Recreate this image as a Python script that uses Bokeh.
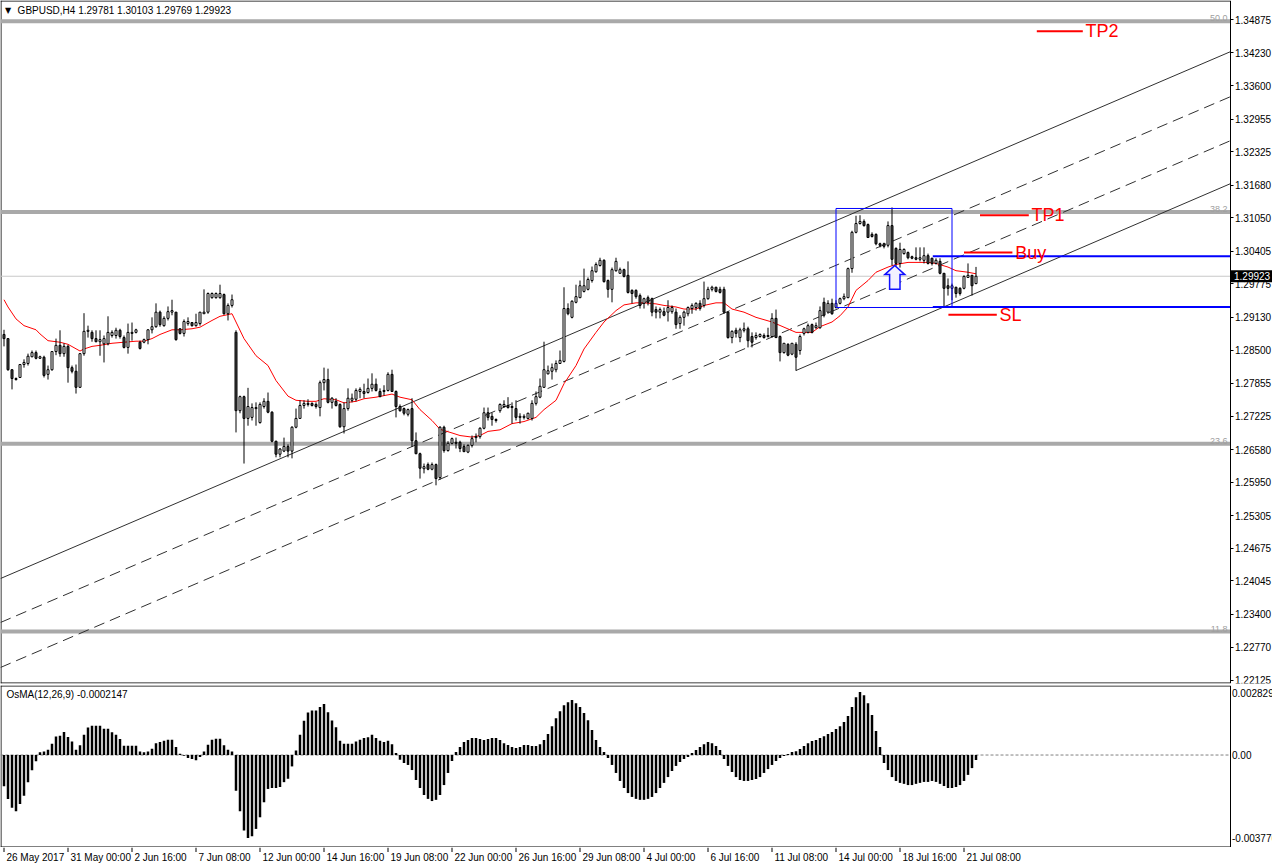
from bokeh.plotting import figure
from bokeh.models import Range1d, FixedTicker, PrintfTickFormatter, Label
from bokeh.layouts import column
from bokeh.embed import file_html
from bokeh.resources import INLINE
from bokeh.core.properties import value

# ---------------- data (GBPUSD H4, 26 May 2017 08:00 .. 21 Jul 2017 20:00) ----------------
bar_open = [
    1.2880, 1.2872, 1.2812, 1.2795, 1.2797, 1.2822, 1.2824, 1.2837, 1.2845, 1.2834,
    1.2836, 1.2803, 1.2812, 1.2847, 1.2859, 1.2843, 1.2857, 1.2816, 1.2809, 1.2778,
    1.2843, 1.2886, 1.2884, 1.2872, 1.2866, 1.2862, 1.2862, 1.2878, 1.2878, 1.2888,
    1.2874, 1.2855, 1.2882, 1.2884, 1.2865, 1.2865, 1.2870, 1.2889, 1.2895, 1.2923,
    1.2897, 1.2911, 1.2923, 1.2923, 1.2891, 1.2882, 1.2901, 1.2903, 1.2897, 1.2901,
    1.2920, 1.2923, 1.2951, 1.2951, 1.2951, 1.2957, 1.2920, 1.2936, 1.2884, 1.2733,
    1.2760, 1.2718, 1.2720, 1.2737, 1.2710, 1.2741, 1.2751, 1.2730, 1.2674, 1.2649,
    1.2655, 1.2664, 1.2655, 1.2701, 1.2718, 1.2743, 1.2747, 1.2747, 1.2745, 1.2739,
    1.2787, 1.2793, 1.2749, 1.2751, 1.2745, 1.2702, 1.2737, 1.2753, 1.2755, 1.2770,
    1.2770, 1.2768, 1.2776, 1.2784, 1.2770, 1.2770, 1.2772, 1.2803, 1.2770, 1.2741,
    1.2737, 1.2726, 1.2737, 1.2675, 1.2650, 1.2621, 1.2629, 1.2620, 1.2629, 1.2604,
    1.2701, 1.2656, 1.2670, 1.2672, 1.2672, 1.2664, 1.2653, 1.2666, 1.2681, 1.2683,
    1.2699, 1.2729, 1.2722, 1.2716, 1.2733, 1.2741, 1.2743, 1.2741, 1.2737, 1.2720,
    1.2720, 1.2718, 1.2718, 1.2747, 1.2759, 1.2778, 1.2804, 1.2809, 1.2812, 1.2824,
    1.2828, 1.2930, 1.2913, 1.2942, 1.2951, 1.2963, 1.2967, 1.2984, 1.3001, 1.3013,
    1.3023, 1.2984, 1.2967, 1.3003, 1.2998, 1.3005, 1.2994, 1.2965, 1.2965, 1.2955,
    1.2940, 1.2951, 1.2949, 1.2928, 1.2923, 1.2924, 1.2923, 1.2924, 1.2923, 1.2901,
    1.2913, 1.2920, 1.2930, 1.2932, 1.2940, 1.2936, 1.2949, 1.2967, 1.2971, 1.2967,
    1.2967, 1.2923, 1.2874, 1.2888, 1.2874, 1.2888, 1.2891, 1.2876, 1.2874, 1.2876,
    1.2878, 1.2876, 1.2876, 1.2911, 1.2876, 1.2845, 1.2861, 1.2842, 1.2861, 1.2849,
    1.2882, 1.2884, 1.2899, 1.2893, 1.2893, 1.2942, 1.2923, 1.2940, 1.2932, 1.2940,
    1.2949, 1.2951, 1.3007, 1.3077, 1.3094, 1.3098, 1.3092, 1.3073, 1.3073, 1.3055,
    1.3055, 1.3052, 1.3090, 1.3046, 1.3017, 1.3036, 1.3038, 1.3030, 1.3028, 1.3025,
    1.3023, 1.3032, 1.3027, 1.3017, 1.3021, 1.2998, 1.2974, 1.2969, 1.2971, 1.2969,
    1.2969, 1.2990, 1.2994, 1.29781]

bar_high = [
    1.2889, 1.2873, 1.2813, 1.2797, 1.2823, 1.2832, 1.2843, 1.2849, 1.2849, 1.2839,
    1.2839, 1.2820, 1.2848, 1.2872, 1.2888, 1.2863, 1.2860, 1.2820, 1.2822, 1.2844,
    1.2921, 1.2897, 1.2888, 1.2888, 1.2888, 1.2878, 1.2915, 1.2888, 1.2893, 1.2891,
    1.2878, 1.2901, 1.2903, 1.2891, 1.2868, 1.2872, 1.2890, 1.2913, 1.2940, 1.2926,
    1.2915, 1.2934, 1.2947, 1.2923, 1.2891, 1.2909, 1.2913, 1.2903, 1.2920, 1.2923,
    1.2967, 1.2961, 1.2961, 1.2961, 1.2976, 1.2959, 1.2940, 1.2957, 1.2888, 1.2762,
    1.2762, 1.2777, 1.2747, 1.2749, 1.2749, 1.2757, 1.2768, 1.2732, 1.2675, 1.2661,
    1.2681, 1.2668, 1.2703, 1.2737, 1.2753, 1.2753, 1.2755, 1.2749, 1.2749, 1.2791,
    1.2816, 1.2814, 1.2759, 1.2757, 1.2747, 1.2749, 1.2776, 1.2766, 1.2776, 1.2778,
    1.2785, 1.2795, 1.2805, 1.2795, 1.2776, 1.2782, 1.2807, 1.2812, 1.2772, 1.2745,
    1.2739, 1.2737, 1.2757, 1.2691, 1.2652, 1.2631, 1.2633, 1.2633, 1.2631, 1.2703,
    1.2704, 1.2674, 1.2681, 1.2681, 1.2675, 1.2668, 1.2668, 1.2685, 1.2689, 1.2701,
    1.2739, 1.2739, 1.2729, 1.2718, 1.2747, 1.2753, 1.2759, 1.2749, 1.2753, 1.2728,
    1.2726, 1.2729, 1.2753, 1.2770, 1.2795, 1.2866, 1.2820, 1.2824, 1.2830, 1.2849,
    1.2971, 1.2940, 1.2946, 1.2976, 1.2984, 1.3007, 1.2990, 1.3011, 1.3019, 1.3028,
    1.3025, 1.2986, 1.3009, 1.3028, 1.3009, 1.3007, 1.3021, 1.2967, 1.2967, 1.2959,
    1.2951, 1.2955, 1.2951, 1.2934, 1.2932, 1.2932, 1.2946, 1.2936, 1.2930, 1.2917,
    1.2926, 1.2934, 1.2940, 1.2942, 1.2946, 1.2982, 1.2972, 1.2974, 1.2972, 1.2972,
    1.2972, 1.2924, 1.2888, 1.2893, 1.2893, 1.2903, 1.2895, 1.2884, 1.2884, 1.2882,
    1.2882, 1.2893, 1.2921, 1.2928, 1.2878, 1.2863, 1.2863, 1.2863, 1.2865, 1.2880,
    1.2893, 1.2901, 1.2901, 1.2903, 1.2934, 1.2951, 1.2946, 1.2949, 1.2946, 1.2951,
    1.2959, 1.3009, 1.3080, 1.3109, 1.3110, 1.3102, 1.3094, 1.3077, 1.3075, 1.3057,
    1.3057, 1.3098, 1.3125, 1.3048, 1.3057, 1.3046, 1.3040, 1.3032, 1.3048, 1.3048,
    1.3048, 1.3036, 1.3028, 1.3027, 1.3027, 1.2998, 1.2988, 1.2978, 1.2972, 1.2971,
    1.2994, 1.3017, 1.2995, 1.30103]

bar_low = [
    1.2857, 1.2810, 1.2774, 1.2791, 1.2796, 1.2816, 1.2820, 1.2836, 1.2832, 1.2833,
    1.2797, 1.2793, 1.2810, 1.2840, 1.2837, 1.2837, 1.2787, 1.2805, 1.2766, 1.2777,
    1.2839, 1.2874, 1.2866, 1.2865, 1.2839, 1.2826, 1.2859, 1.2874, 1.2872, 1.2872,
    1.2853, 1.2843, 1.2868, 1.2882, 1.2851, 1.2863, 1.2861, 1.2882, 1.2893, 1.2895,
    1.2895, 1.2907, 1.2917, 1.2868, 1.2880, 1.2876, 1.2897, 1.2895, 1.2895, 1.2897,
    1.2920, 1.2920, 1.2949, 1.2949, 1.2949, 1.2918, 1.2907, 1.2932, 1.2691, 1.2728,
    1.2631, 1.2704, 1.2714, 1.2704, 1.2708, 1.2737, 1.2728, 1.2672, 1.2643, 1.2643,
    1.2653, 1.2643, 1.2641, 1.2699, 1.2718, 1.2737, 1.2741, 1.2741, 1.2737, 1.2722,
    1.2772, 1.2747, 1.2737, 1.2741, 1.2700, 1.2689, 1.2733, 1.2749, 1.2751, 1.2757,
    1.2757, 1.2766, 1.2770, 1.2770, 1.2759, 1.2762, 1.2770, 1.2769, 1.2720, 1.2731,
    1.2724, 1.2722, 1.2663, 1.2649, 1.2602, 1.2612, 1.2618, 1.2618, 1.2589, 1.2600,
    1.2652, 1.2654, 1.2668, 1.2660, 1.2653, 1.2653, 1.2651, 1.2662, 1.2672, 1.2679,
    1.2697, 1.2714, 1.2704, 1.2710, 1.2729, 1.2739, 1.2737, 1.2708, 1.2714, 1.2708,
    1.2716, 1.2716, 1.2714, 1.2743, 1.2757, 1.2777, 1.2803, 1.2793, 1.2807, 1.2823,
    1.2826, 1.2917, 1.2911, 1.2940, 1.2950, 1.2961, 1.2965, 1.2980, 1.2999, 1.3011,
    1.2980, 1.2951, 1.2942, 1.3001, 1.2997, 1.2990, 1.2959, 1.2940, 1.2949, 1.2930,
    1.2930, 1.2936, 1.2915, 1.2911, 1.2911, 1.2915, 1.2905, 1.2920, 1.2891, 1.2891,
    1.2897, 1.2915, 1.2920, 1.2926, 1.2926, 1.2932, 1.2947, 1.2963, 1.2961, 1.2959,
    1.2920, 1.2872, 1.2863, 1.2874, 1.2865, 1.2884, 1.2855, 1.2855, 1.2870, 1.2874,
    1.2872, 1.2874, 1.2874, 1.2873, 1.2828, 1.2843, 1.2838, 1.2840, 1.2810, 1.2841,
    1.2878, 1.2882, 1.2882, 1.2891, 1.2891, 1.2913, 1.2920, 1.2918, 1.2930, 1.2938,
    1.2946, 1.2950, 1.2999, 1.3075, 1.3092, 1.3088, 1.3066, 1.3067, 1.3052, 1.3048,
    1.3046, 1.3048, 1.3013, 1.3011, 1.3009, 1.3034, 1.3025, 1.3025, 1.3023, 1.3021,
    1.3017, 1.3015, 1.3013, 1.3015, 1.2996, 1.2934, 1.2955, 1.2946, 1.2951, 1.2955,
    1.2967, 1.2990, 1.2955, 1.29769]

bar_close = [
    1.2872, 1.2812, 1.2795, 1.2793, 1.2822, 1.2826, 1.2838, 1.2845, 1.2834, 1.2837,
    1.2801, 1.2812, 1.2847, 1.2859, 1.2843, 1.2857, 1.2816, 1.2809, 1.2778, 1.2843,
    1.2886, 1.2888, 1.2872, 1.2866, 1.2870, 1.2872, 1.2884, 1.2884, 1.2888, 1.2876,
    1.2855, 1.2884, 1.2884, 1.2889, 1.2853, 1.2870, 1.2889, 1.2895, 1.2923, 1.2899,
    1.2911, 1.2924, 1.2926, 1.2870, 1.2882, 1.2905, 1.2905, 1.2897, 1.2903, 1.2923,
    1.2923, 1.2959, 1.2959, 1.2959, 1.2959, 1.2920, 1.2936, 1.2947, 1.2733, 1.2760,
    1.2718, 1.2741, 1.2739, 1.2739, 1.2745, 1.2751, 1.2730, 1.2674, 1.2649, 1.2659,
    1.2664, 1.2655, 1.2701, 1.2718, 1.2743, 1.2747, 1.2745, 1.2743, 1.2741, 1.2787,
    1.2793, 1.2749, 1.2757, 1.2743, 1.2702, 1.2737, 1.2757, 1.2757, 1.2772, 1.2774,
    1.2766, 1.2776, 1.2784, 1.2772, 1.2760, 1.2772, 1.2803, 1.2770, 1.2741, 1.2733,
    1.2728, 1.2735, 1.2675, 1.2650, 1.2622, 1.2625, 1.2620, 1.2629, 1.2602, 1.2701,
    1.2656, 1.2670, 1.2679, 1.2670, 1.2660, 1.2654, 1.2666, 1.2679, 1.2683, 1.2699,
    1.2729, 1.2720, 1.2716, 1.2714, 1.2745, 1.2745, 1.2739, 1.2739, 1.2720, 1.2722,
    1.2722, 1.2728, 1.2747, 1.2760, 1.2780, 1.2812, 1.2810, 1.2816, 1.2824, 1.2830,
    1.2930, 1.2920, 1.2944, 1.2953, 1.2974, 1.2974, 1.2986, 1.3003, 1.3015, 1.3023,
    1.2982, 1.2967, 1.3005, 1.3021, 1.3005, 1.2992, 1.2961, 1.2959, 1.2953, 1.2936,
    1.2949, 1.2942, 1.2923, 1.2923, 1.2928, 1.2917, 1.2932, 1.2932, 1.2899, 1.2913,
    1.2923, 1.2932, 1.2936, 1.2940, 1.2930, 1.2949, 1.2967, 1.2971, 1.2963, 1.2961,
    1.2923, 1.2874, 1.2886, 1.2882, 1.2889, 1.2891, 1.2868, 1.2865, 1.2878, 1.2880,
    1.2874, 1.2878, 1.2911, 1.2874, 1.2845, 1.2863, 1.2840, 1.2863, 1.2836, 1.2876,
    1.2891, 1.2897, 1.2884, 1.2897, 1.2926, 1.2917, 1.2940, 1.2920, 1.2940, 1.2949,
    1.2953, 1.3007, 1.3077, 1.3094, 1.3098, 1.3090, 1.3067, 1.3069, 1.3055, 1.3052,
    1.3050, 1.3090, 1.3025, 1.3017, 1.3044, 1.3044, 1.3028, 1.3027, 1.3025, 1.3028,
    1.3032, 1.3017, 1.3017, 1.3023, 1.2998, 1.2969, 1.2969, 1.2974, 1.2959, 1.2959,
    1.2992, 1.2994, 1.2974, 1.29923]

# red moving average, read at selected bars
ma_bar = [0, 1, 3, 5, 8, 9, 11, 14, 16, 19, 20, 22, 24, 27, 30, 33, 35, 37, 39, 42,
          44, 47, 49, 52, 54, 57, 58, 60, 63, 66, 68, 71, 73, 76, 78, 80, 83, 85, 88, 90,
          93, 95, 97, 99, 102, 104, 107, 109, 112, 114, 117, 119, 121, 124, 127, 130, 133, 135, 138, 140,
          143, 145, 148, 150, 153, 155, 158, 160, 163, 165, 168, 170, 173, 175, 178, 180, 182, 185, 188, 192,
          195, 198, 202, 204, 207, 209, 211, 213, 216, 218, 221, 223, 226, 228, 231, 233, 236, 238, 241, 243]
ma_val = [1.2947, 1.2933, 1.2910, 1.2897, 1.2889, 1.2881, 1.2868, 1.2865, 1.2861, 1.2848,
          1.2852, 1.2857, 1.2859, 1.2863, 1.2865, 1.2867, 1.2867, 1.2872, 1.2880, 1.2889,
          1.2889, 1.2891, 1.2894, 1.2907, 1.2915, 1.2920, 1.2904, 1.2872, 1.2839, 1.2820,
          1.2791, 1.2761, 1.2753, 1.2751, 1.2751, 1.2756, 1.2754, 1.2748, 1.2751, 1.2756,
          1.2759, 1.2762, 1.2765, 1.2759, 1.2754, 1.2735, 1.2714, 1.2697, 1.2690, 1.2685,
          1.2682, 1.2685, 1.2693, 1.2696, 1.2708, 1.2712, 1.2720, 1.2735, 1.2753, 1.2785,
          1.2820, 1.2852, 1.2884, 1.2904, 1.2926, 1.2937, 1.2941, 1.2941, 1.2939, 1.2936,
          1.2933, 1.2929, 1.2929, 1.2936, 1.2941, 1.2941, 1.2929, 1.2923, 1.2913, 1.2904,
          1.2894, 1.2884, 1.2884, 1.2895, 1.2904, 1.2916, 1.2933, 1.2965, 1.2984, 1.3000,
          1.3010, 1.3015, 1.3019, 1.3019, 1.3019, 1.3017, 1.3010, 1.3003, 1.3000, 1.2997]

# OsMA(12,26,9) histogram
osma = [
    -0.00129, -0.00181, -0.00218, -0.00232, -0.00202, -0.00168, -0.00112, -0.00063, -0.00026, 0.00011,
    0.00015, 0.00022, 0.00047, 0.00077, 0.00080, 0.00095, 0.00074, 0.00056, 0.00022, 0.00040,
    0.00084, 0.00114, 0.00121, 0.00121, 0.00121, 0.00108, 0.00108, 0.00094, 0.00084, 0.00066,
    0.00038, 0.00038, 0.00038, 0.00038, 0.00015, 0.00011, 0.00015, 0.00026, 0.00049, 0.00054,
    0.00059, 0.00063, 0.00063, 0.00033, 0.00005, -0.00003, -0.00012, -0.00016, -0.00022, -0.00008,
    0.00015, 0.00042, 0.00063, 0.00067, 0.00067, 0.00040, 0.00022, 0.00015, -0.00147, -0.00232,
    -0.00312, -0.00342, -0.00335, -0.00305, -0.00257, -0.00195, -0.00140, -0.00136, -0.00136, -0.00132,
    -0.00112, -0.00098, -0.00047, 0.00019, 0.00084, 0.00141, 0.00176, 0.00184, 0.00184, 0.00198,
    0.00211, 0.00177, 0.00143, 0.00115, 0.00059, 0.00047, 0.00047, 0.00047, 0.00056, 0.00063,
    0.00070, 0.00073, 0.00084, 0.00070, 0.00059, 0.00054, 0.00059, 0.00045, 0.00008, -0.00019,
    -0.00033, -0.00041, -0.00062, -0.00103, -0.00136, -0.00165, -0.00181, -0.00190, -0.00185, -0.00165,
    -0.00124, -0.00074, -0.00025, 0.00012, 0.00033, 0.00054, 0.00062, 0.00070, 0.00070, 0.00066,
    0.00062, 0.00066, 0.00070, 0.00070, 0.00062, 0.00049, 0.00041, 0.00033, 0.00029, 0.00033,
    0.00041, 0.00041, 0.00037, 0.00037, 0.00045, 0.00062, 0.00087, 0.00119, 0.00152, 0.00181,
    0.00206, 0.00218, 0.00227, 0.00214, 0.00198, 0.00173, 0.00144, 0.00103, 0.00062, 0.00033,
    0.00012, -0.00012, -0.00041, -0.00074, -0.00107, -0.00136, -0.00157, -0.00173, -0.00181, -0.00185,
    -0.00185, -0.00181, -0.00173, -0.00157, -0.00136, -0.00115, -0.00091, -0.00066, -0.00045, -0.00029,
    -0.00016, -0.00008, 0.00008, 0.00021, 0.00033, 0.00045, 0.00054, 0.00049, 0.00037, 0.00021,
    -0.00016, -0.00045, -0.00070, -0.00091, -0.00103, -0.00107, -0.00107, -0.00103, -0.00099, -0.00091,
    -0.00074, -0.00058, -0.00041, -0.00025, -0.00012, -0.00004, 0.00004, 0.00012, 0.00016, 0.00025,
    0.00037, 0.00049, 0.00058, 0.00062, 0.00070, 0.00078, 0.00087, 0.00095, 0.00107, 0.00119,
    0.00136, 0.00161, 0.00198, 0.00239, 0.00260, 0.00247, 0.00214, 0.00165, 0.00099, 0.00033,
    -0.00033, -0.00062, -0.00091, -0.00107, -0.00115, -0.00119, -0.00124, -0.00124, -0.00119, -0.00115,
    -0.00111, -0.00111, -0.00107, -0.00111, -0.00119, -0.00128, -0.00136, -0.00136, -0.00132, -0.00124,
    -0.00107, -0.00082, -0.00054, -0.00021]

price_ticks = [1.34875, 1.34230, 1.33600, 1.32955, 1.32325, 1.31680, 1.31050, 1.30405,
               1.29775, 1.29130, 1.28500, 1.27855, 1.27225, 1.26580, 1.25950, 1.25305,
               1.24675, 1.24045, 1.23400, 1.22770, 1.22125]
time_tick_bars = [0, 16, 32, 48, 64, 80, 96, 112, 128, 144, 160, 176, 192, 208, 224, 240]
time_labels = ["26 May 2017", "31 May 00:00", "2 Jun 16:00", "7 Jun 08:00", "12 Jun 00:00",
               "14 Jun 16:00", "19 Jun 08:00", "22 Jun 00:00", "26 Jun 16:00", "29 Jun 08:00",
               "4 Jul 00:00", "6 Jul 16:00", "11 Jul 08:00", "14 Jul 00:00", "18 Jul 16:00",
               "21 Jul 08:00"]

fib_levels = [1.3484, 1.3116, 1.2669, 1.2307]
fib_names = ["50.0", "38.2", "23.6", "11.8"]
last_price = 1.29923

# channel lines: (bar0, price0, bar1, price1)
channel_solid = [(-0.875, 1.24092, 306.5, 1.34251), (198, 1.28105, 306.5, 1.31705)]
channel_dash = [(-0.875, 1.23244, 306.5, 1.33383), (-0.875, 1.22376, 306.5, 1.32534)]

level_names = ["TP2", "TP1", "Buy", "SL"]
level_prices = [1.3465, 1.3110, 1.3038, 1.2918]
level_start = [258.2, 244.0, 240.0, 236.1]
level_end = [269.7, 256.2, 252.1, 248.2]

blue_levels = [1.3031, 1.2933]
blue_start = 232.2
box_left, box_right, box_top, box_bottom = 208.0, 237.0, 1.3123, 1.2932
# up-arrow object: centre bar, tip price, bottom price
arrow_bar, arrow_tip, arrow_base = 222.7, 1.3013, 1.2967

# ---------------- geometry of the window ----------------
FONT = "Liberation Sans"
PXW = 4.0                  # pixels per bar
XL = -0.875                # left edge of the window (bars)
XF = XL + 1272 / PXW       # right edge of the canvas
XA = XL + 1229.5 / PXW     # price-scale line
PY1 = 0.0001929            # price per pixel, main window
PY2 = 0.00004128           # OsMA units per pixel
Y1_TOP = 1.35242
Y1_BOT = Y1_TOP - 683 * PY1
Y2_TOP = 0.002829 + PY2
Y2_BOT = -0.003776 - PY2

N = min(len(bar_open), len(bar_high), len(bar_low), len(bar_close))
bars = list(range(N))


def style_scale(axis, ticks, fmt=None, overrides=None, tick_out=3):
    axis.fixed_location = XA
    axis.ticker = FixedTicker(ticks=ticks)
    if fmt is not None:
        axis.formatter = PrintfTickFormatter(format=fmt)
    if overrides is not None:
        axis.major_label_overrides = overrides
    axis.major_tick_out = tick_out
    axis.major_tick_in = 0
    axis.minor_tick_out = 0
    axis.minor_tick_in = 0
    axis.major_label_standoff = 2
    axis.major_label_text_font = FONT
    axis.major_label_text_font_size = "10px"
    axis.major_label_text_color = "black"
    axis.axis_line_color = "black"


p1 = figure(frame_width=1272, frame_height=683, x_range=Range1d(XL, XF),
            y_range=Range1d(Y1_BOT, Y1_TOP), output_backend="svg", toolbar_location=None,
            x_axis_location=None, y_axis_location="right",
            min_border_left=0, min_border_right=0, min_border_top=0, min_border_bottom=2,
            background_fill_color="white", border_fill_color="white",
            outline_line_color=None)
p1.grid.visible = False
style_scale(p1.yaxis[0], price_ticks, fmt="%.5f")

# window border
p1.segment(x0=[XL, XL, XL + 0.5 / PXW], x1=[XA, XA, XL + 0.5 / PXW],
           y0=[Y1_TOP - 0.5 * PY1, Y1_BOT + 0.5 * PY1, Y1_BOT],
           y1=[Y1_TOP - 0.5 * PY1, Y1_BOT + 0.5 * PY1, Y1_TOP],
           line_color="black", line_width=1)

# fibonacci levels
p1.segment(x0=[XL] * len(fib_levels), x1=[XA] * len(fib_levels),
           y0=fib_levels, y1=fib_levels, line_color="#a9a9a9", line_width=4)
p1.text(x=[XA - 0.6] * len(fib_levels), y=fib_levels, text=fib_names,
        text_align="right", text_baseline="bottom", text_color="#a0a0a0",
        text_font_size="9px", text_font=value(FONT))

# last price line
p1.segment(x0=[XL], x1=[XA], y0=[last_price], y1=[last_price],
           line_color="#c8c8c8", line_width=1)

# channel
for (b0, v0, b1, v1) in channel_solid:
    p1.line([b0, b1], [v0, v1], line_color="#303030", line_width=1)
for (b0, v0, b1, v1) in channel_dash:
    p1.line([b0, b1], [v0, v1], line_color="#303030", line_width=1, line_dash="11 6")

# moving average
p1.line(ma_bar, ma_val, line_color="red", line_width=1)

# candles
p1.segment(x0=bars, x1=bars, y0=bar_low[:N], y1=bar_high[:N], line_color="black", line_width=1)
bull = [i for i in bars if bar_close[i] >= bar_open[i]]
bear = [i for i in bars if bar_close[i] < bar_open[i]]
p1.vbar(x=bull, top=[bar_close[i] for i in bull], bottom=[bar_open[i] for i in bull],
        width=0.5, fill_color="white", line_color="black", line_width=1)
p1.vbar(x=bear, top=[bar_open[i] for i in bear], bottom=[bar_close[i] for i in bear],
        width=0.5, fill_color="#474747", line_color="black", line_width=1)

# blue box and levels
p1.quad(left=[box_left], right=[box_right], top=[box_top], bottom=[box_bottom],
        fill_color=None, line_color="#0000ff", line_width=1)
p1.segment(x0=[blue_start] * 2, x1=[XA] * 2, y0=blue_levels, y1=blue_levels,
           line_color="#0000ff", line_width=2)

# up arrow object
head_w, shaft_w = 2.5, 1.3
neck = arrow_tip - (arrow_tip - arrow_base) * 0.38
ax_pts = [arrow_bar, arrow_bar + head_w, arrow_bar + shaft_w, arrow_bar + shaft_w,
          arrow_bar - shaft_w, arrow_bar - shaft_w, arrow_bar - head_w]
ay_pts = [arrow_tip, neck, neck, arrow_base, arrow_base, neck, neck]
p1.patch(ax_pts, ay_pts, fill_color="#f3f0ff", line_color="#1010ff", line_width=1.5,
         line_join="miter")

# red trade levels
p1.segment(x0=level_start, x1=level_end, y0=level_prices, y1=level_prices,
           line_color="red", line_width=2)
p1.text(x=[e + 0.7 for e in level_end], y=level_prices, text=level_names,
        text_align="left", text_baseline="middle", text_color="red",
        text_font_size="18px", text_font=value(FONT))

# last price marker on the price scale
p1.quad(left=[XA + 0.25], right=[XF], top=[last_price + 6 * PY1], bottom=[last_price - 6 * PY1],
        fill_color="black", line_color=None, level="overlay")
p1.text(x=[XA + 1.0], y=[last_price], text=["1.29923"], text_align="left",
        text_baseline="middle", text_color="white", text_font_size="10px",
        text_font=value(FONT), level="overlay")

# title
p1.add_layout(Label(x=1.0, y=Y1_TOP - 10 * PY1, text="\u25bc", text_font_size="8px",
                    text_font="DejaVu Sans", text_align="center", text_baseline="middle",
                    text_color="black"))
p1.add_layout(Label(x=3.4, y=Y1_TOP - 10 * PY1,
                    text="GBPUSD,H4  1.29781 1.30103 1.29769 1.29923",
                    text_font_size="10px", text_font=FONT, text_align="left",
                    text_baseline="middle", text_color="black"))

# ---------------- OsMA ----------------
p2 = figure(frame_width=1272, frame_height=162, x_range=p1.x_range,
            y_range=Range1d(Y2_BOT, Y2_TOP), output_backend="svg", toolbar_location=None,
            x_axis_location=None, y_axis_location="right",
            min_border_left=0, min_border_right=0, min_border_top=0, min_border_bottom=0,
            background_fill_color="white", border_fill_color="white",
            outline_line_color=None)
p2.grid.visible = False
osma_tick_pos = [0.00255, 0, -0.00343]
osma_tick_txt = ["0.002829", "0.00", "-0.003776"]
style_scale(p2.yaxis[0], osma_tick_pos,
            overrides={k: v for k, v in zip(osma_tick_pos, osma_tick_txt)}, tick_out=0)

p2.segment(x0=[XL, XL, XL + 0.5 / PXW], x1=[XA, XA, XL + 0.5 / PXW],
           y0=[Y2_TOP - 0.5 * PY2, Y2_BOT + 0.5 * PY2, Y2_BOT],
           y1=[Y2_TOP - 0.5 * PY2, Y2_BOT + 0.5 * PY2, Y2_TOP],
           line_color="black", line_width=1)
p2.segment(x0=[XL], x1=[XA], y0=[0], y1=[0], line_color="#808080",
           line_dash="3 2", line_width=1)
p2.vbar(x=list(range(len(osma))), top=osma, bottom=0, width=0.62,
        fill_color="black", line_color=None)
p2.add_layout(Label(x=0.6, y=Y2_TOP - 9 * PY2, text="OsMA(12,26,9) -0.0002147",
                    text_font_size="10px", text_font=FONT, text_align="left",
                    text_baseline="middle", text_color="black"))

# ---------------- time scale strip ----------------
p3 = figure(frame_width=1272, frame_height=20, x_range=p1.x_range, y_range=Range1d(0, 20),
            output_backend="svg", toolbar_location=None,
            x_axis_location=None, y_axis_location=None,
            min_border_left=0, min_border_right=0, min_border_top=0, min_border_bottom=0,
            background_fill_color="white", border_fill_color="white", outline_line_color=None)
p3.grid.visible = False
p3.segment(x0=time_tick_bars, x1=time_tick_bars, y0=[20] * len(time_tick_bars),
           y1=[15.5] * len(time_tick_bars), line_color="black", line_width=1)
p3.text(x=[t + 0.6 for t in time_tick_bars], y=[10] * len(time_tick_bars), text=time_labels,
        text_align="left", text_baseline="middle", text_color="black",
        text_font_size="10px", text_font=value(FONT))

layout = column(p1, p2, p3, spacing=0)
open("out.html", "w").write(file_html(layout, INLINE))
